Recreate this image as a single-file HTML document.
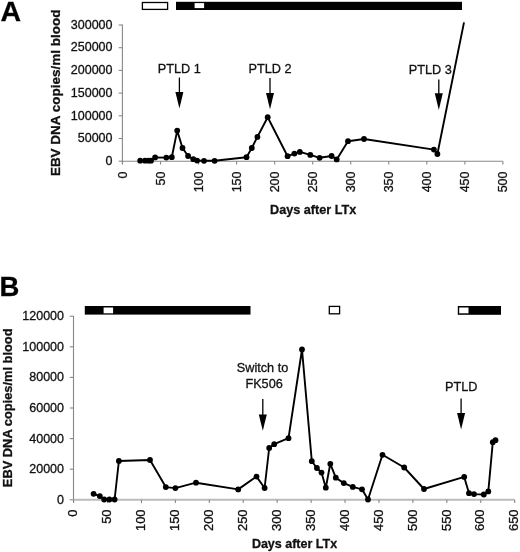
<!DOCTYPE html><html><head><meta charset="utf-8"><style>html,body{margin:0;padding:0;background:#fff;}svg{display:block;will-change:transform;} text{stroke:#111;stroke-width:0.3px;}</style></head><body>
<svg width="520" height="552" viewBox="0 0 520 552" font-family='"Liberation Sans", sans-serif' fill="#111">
<rect width="520" height="552" fill="#fff"/>
<text x="0.6" y="21" font-size="28.5" font-weight="bold" fill="#000">A</text>
<line x1="122.4" y1="24.5" x2="122.4" y2="163.7" stroke="#888" stroke-width="1.1"/>
<line x1="118.7" y1="161.20" x2="122.4" y2="161.20" stroke="#888" stroke-width="1.1"/>
<text x="112.5" y="164.90" text-anchor="end" font-size="12.5">0</text>
<line x1="118.7" y1="138.50" x2="122.4" y2="138.50" stroke="#888" stroke-width="1.1"/>
<text x="112.5" y="142.20" text-anchor="end" font-size="12.5">50000</text>
<line x1="118.7" y1="115.80" x2="122.4" y2="115.80" stroke="#888" stroke-width="1.1"/>
<text x="112.5" y="119.50" text-anchor="end" font-size="12.5">100000</text>
<line x1="118.7" y1="93.10" x2="122.4" y2="93.10" stroke="#888" stroke-width="1.1"/>
<text x="112.5" y="96.80" text-anchor="end" font-size="12.5">150000</text>
<line x1="118.7" y1="70.40" x2="122.4" y2="70.40" stroke="#888" stroke-width="1.1"/>
<text x="112.5" y="74.10" text-anchor="end" font-size="12.5">200000</text>
<line x1="118.7" y1="47.70" x2="122.4" y2="47.70" stroke="#888" stroke-width="1.1"/>
<text x="112.5" y="51.40" text-anchor="end" font-size="12.5">250000</text>
<line x1="118.7" y1="25.00" x2="122.4" y2="25.00" stroke="#888" stroke-width="1.1"/>
<text x="112.5" y="28.70" text-anchor="end" font-size="12.5">300000</text>
<line x1="122.4" y1="161.2" x2="502.9" y2="161.2" stroke="#888" stroke-width="1.1"/>
<line x1="122.50" y1="161.2" x2="122.50" y2="164.5" stroke="#888" stroke-width="1.1"/>
<text transform="translate(126.60,171.5) rotate(-90)" text-anchor="end" font-size="12.5">0</text>
<line x1="160.54" y1="161.2" x2="160.54" y2="164.5" stroke="#888" stroke-width="1.1"/>
<text transform="translate(164.64,171.5) rotate(-90)" text-anchor="end" font-size="12.5">50</text>
<line x1="198.58" y1="161.2" x2="198.58" y2="164.5" stroke="#888" stroke-width="1.1"/>
<text transform="translate(202.68,171.5) rotate(-90)" text-anchor="end" font-size="12.5">100</text>
<line x1="236.62" y1="161.2" x2="236.62" y2="164.5" stroke="#888" stroke-width="1.1"/>
<text transform="translate(240.72,171.5) rotate(-90)" text-anchor="end" font-size="12.5">150</text>
<line x1="274.66" y1="161.2" x2="274.66" y2="164.5" stroke="#888" stroke-width="1.1"/>
<text transform="translate(278.76,171.5) rotate(-90)" text-anchor="end" font-size="12.5">200</text>
<line x1="312.70" y1="161.2" x2="312.70" y2="164.5" stroke="#888" stroke-width="1.1"/>
<text transform="translate(316.80,171.5) rotate(-90)" text-anchor="end" font-size="12.5">250</text>
<line x1="350.74" y1="161.2" x2="350.74" y2="164.5" stroke="#888" stroke-width="1.1"/>
<text transform="translate(354.84,171.5) rotate(-90)" text-anchor="end" font-size="12.5">300</text>
<line x1="388.78" y1="161.2" x2="388.78" y2="164.5" stroke="#888" stroke-width="1.1"/>
<text transform="translate(392.88,171.5) rotate(-90)" text-anchor="end" font-size="12.5">350</text>
<line x1="426.82" y1="161.2" x2="426.82" y2="164.5" stroke="#888" stroke-width="1.1"/>
<text transform="translate(430.92,171.5) rotate(-90)" text-anchor="end" font-size="12.5">400</text>
<line x1="464.86" y1="161.2" x2="464.86" y2="164.5" stroke="#888" stroke-width="1.1"/>
<text transform="translate(468.96,171.5) rotate(-90)" text-anchor="end" font-size="12.5">450</text>
<line x1="502.90" y1="161.2" x2="502.90" y2="164.5" stroke="#888" stroke-width="1.1"/>
<text transform="translate(507.00,171.5) rotate(-90)" text-anchor="end" font-size="12.5">500</text>
<text transform="translate(59.6,92.85) rotate(-90)" text-anchor="middle" font-size="13" font-weight="bold" textLength="166.5" lengthAdjust="spacingAndGlyphs">EBV DNA copies/ml blood</text>
<text x="270" y="214.2" font-size="12.5" font-weight="bold" textLength="86.2" lengthAdjust="spacingAndGlyphs">Days after LTx</text>
<polyline fill="none" stroke="#000" stroke-width="1.9" stroke-linejoin="round" points="140.2,160.7 145,160.7 148.5,160.7 151,160.7 155.1,157.4 166.3,157.6 171.8,157.2 177.2,130.6 182.5,148 188.1,156 193.3,159.2 197.1,160.6 204,160.8 214.6,160.8 246.5,157.2 251.8,148 257.4,136.9 267.7,117.2 287.6,156.2 294.4,153.6 299.8,151.9 310.3,154.9 319.6,157.8 331.6,156 336.7,159.4 348,141.2 364,139 433.9,149.6 437.4,154 464,22.4"/>
<circle cx="140.2" cy="160.7" r="2.9" fill="#000"/>
<circle cx="145" cy="160.7" r="2.9" fill="#000"/>
<circle cx="148.5" cy="160.7" r="2.9" fill="#000"/>
<circle cx="151" cy="160.7" r="2.9" fill="#000"/>
<circle cx="155.1" cy="157.4" r="2.9" fill="#000"/>
<circle cx="166.3" cy="157.6" r="2.9" fill="#000"/>
<circle cx="171.8" cy="157.2" r="2.9" fill="#000"/>
<circle cx="177.2" cy="130.6" r="2.9" fill="#000"/>
<circle cx="182.5" cy="148" r="2.9" fill="#000"/>
<circle cx="188.1" cy="156" r="2.9" fill="#000"/>
<circle cx="193.3" cy="159.2" r="2.9" fill="#000"/>
<circle cx="197.1" cy="160.6" r="2.9" fill="#000"/>
<circle cx="204" cy="160.8" r="2.9" fill="#000"/>
<circle cx="214.6" cy="160.8" r="2.9" fill="#000"/>
<circle cx="246.5" cy="157.2" r="2.9" fill="#000"/>
<circle cx="251.8" cy="148" r="2.9" fill="#000"/>
<circle cx="257.4" cy="136.9" r="2.9" fill="#000"/>
<circle cx="267.7" cy="117.2" r="2.9" fill="#000"/>
<circle cx="287.6" cy="156.2" r="2.9" fill="#000"/>
<circle cx="294.4" cy="153.6" r="2.9" fill="#000"/>
<circle cx="299.8" cy="151.9" r="2.9" fill="#000"/>
<circle cx="310.3" cy="154.9" r="2.9" fill="#000"/>
<circle cx="319.6" cy="157.8" r="2.9" fill="#000"/>
<circle cx="331.6" cy="156" r="2.9" fill="#000"/>
<circle cx="336.7" cy="159.4" r="2.9" fill="#000"/>
<circle cx="348" cy="141.2" r="2.9" fill="#000"/>
<circle cx="364" cy="139" r="2.9" fill="#000"/>
<circle cx="433.9" cy="149.6" r="2.9" fill="#000"/>
<circle cx="437.4" cy="154" r="2.9" fill="#000"/>
<text x="157.79999999999998" y="72.9" font-size="12.7">PTLD 1</text>
<text x="248.6" y="73.2" font-size="12.7">PTLD 2</text>
<text x="408.8" y="74.1" font-size="12.7">PTLD 3</text>
<line x1="179.4" y1="77.5" x2="179.4" y2="93" stroke="#000" stroke-width="1.3"/>
<polygon points="175.4,92 183.4,92 179.4,108.6" fill="#000"/>
<line x1="270" y1="78" x2="270" y2="94" stroke="#000" stroke-width="1.3"/>
<polygon points="266,93 274,93 270,109.2" fill="#000"/>
<line x1="438.8" y1="79.6" x2="438.8" y2="94.2" stroke="#000" stroke-width="1.3"/>
<polygon points="434.8,93.2 442.8,93.2 438.8,110" fill="#000"/>
<rect x="142.4" y="2.5" width="25.2" height="6.9" fill="#fff" stroke="#000" stroke-width="1.3"/>
<rect x="176" y="1.8" width="286" height="8.2" fill="#000"/>
<rect x="194.6" y="3.1" width="9.5" height="5" fill="#fff"/>
<text x="-0.5" y="295.8" font-size="27.5" font-weight="bold" fill="#000">B</text>
<line x1="73.5" y1="316" x2="73.5" y2="502.3" stroke="#888" stroke-width="1.1"/>
<line x1="69.8" y1="499.80" x2="73.5" y2="499.80" stroke="#888" stroke-width="1.1"/>
<text x="64" y="503.80" text-anchor="end" font-size="12.5">0</text>
<line x1="69.8" y1="469.20" x2="73.5" y2="469.20" stroke="#888" stroke-width="1.1"/>
<text x="64" y="473.20" text-anchor="end" font-size="12.5">20000</text>
<line x1="69.8" y1="438.60" x2="73.5" y2="438.60" stroke="#888" stroke-width="1.1"/>
<text x="64" y="442.60" text-anchor="end" font-size="12.5">40000</text>
<line x1="69.8" y1="408.00" x2="73.5" y2="408.00" stroke="#888" stroke-width="1.1"/>
<text x="64" y="412.00" text-anchor="end" font-size="12.5">60000</text>
<line x1="69.8" y1="377.40" x2="73.5" y2="377.40" stroke="#888" stroke-width="1.1"/>
<text x="64" y="381.40" text-anchor="end" font-size="12.5">80000</text>
<line x1="69.8" y1="346.80" x2="73.5" y2="346.80" stroke="#888" stroke-width="1.1"/>
<text x="64" y="350.80" text-anchor="end" font-size="12.5">100000</text>
<line x1="69.8" y1="316.20" x2="73.5" y2="316.20" stroke="#888" stroke-width="1.1"/>
<text x="64" y="320.20" text-anchor="end" font-size="12.5">120000</text>
<line x1="73.5" y1="499.8" x2="514.6899999999999" y2="499.8" stroke="#bbb" stroke-width="2"/>
<line x1="73.60" y1="499.8" x2="73.60" y2="503.1" stroke="#888" stroke-width="1.1"/>
<text transform="translate(77.30,509.4) rotate(-90)" text-anchor="end" font-size="13">0</text>
<line x1="107.53" y1="499.8" x2="107.53" y2="503.1" stroke="#888" stroke-width="1.1"/>
<text transform="translate(111.23,509.4) rotate(-90)" text-anchor="end" font-size="13">50</text>
<line x1="141.46" y1="499.8" x2="141.46" y2="503.1" stroke="#888" stroke-width="1.1"/>
<text transform="translate(145.16,509.4) rotate(-90)" text-anchor="end" font-size="13">100</text>
<line x1="175.39" y1="499.8" x2="175.39" y2="503.1" stroke="#888" stroke-width="1.1"/>
<text transform="translate(179.09,509.4) rotate(-90)" text-anchor="end" font-size="13">150</text>
<line x1="209.32" y1="499.8" x2="209.32" y2="503.1" stroke="#888" stroke-width="1.1"/>
<text transform="translate(213.02,509.4) rotate(-90)" text-anchor="end" font-size="13">200</text>
<line x1="243.25" y1="499.8" x2="243.25" y2="503.1" stroke="#888" stroke-width="1.1"/>
<text transform="translate(246.95,509.4) rotate(-90)" text-anchor="end" font-size="13">250</text>
<line x1="277.18" y1="499.8" x2="277.18" y2="503.1" stroke="#888" stroke-width="1.1"/>
<text transform="translate(280.88,509.4) rotate(-90)" text-anchor="end" font-size="13">300</text>
<line x1="311.11" y1="499.8" x2="311.11" y2="503.1" stroke="#888" stroke-width="1.1"/>
<text transform="translate(314.81,509.4) rotate(-90)" text-anchor="end" font-size="13">350</text>
<line x1="345.04" y1="499.8" x2="345.04" y2="503.1" stroke="#888" stroke-width="1.1"/>
<text transform="translate(348.74,509.4) rotate(-90)" text-anchor="end" font-size="13">400</text>
<line x1="378.97" y1="499.8" x2="378.97" y2="503.1" stroke="#888" stroke-width="1.1"/>
<text transform="translate(382.67,509.4) rotate(-90)" text-anchor="end" font-size="13">450</text>
<line x1="412.90" y1="499.8" x2="412.90" y2="503.1" stroke="#888" stroke-width="1.1"/>
<text transform="translate(416.60,509.4) rotate(-90)" text-anchor="end" font-size="13">500</text>
<line x1="446.83" y1="499.8" x2="446.83" y2="503.1" stroke="#888" stroke-width="1.1"/>
<text transform="translate(450.53,509.4) rotate(-90)" text-anchor="end" font-size="13">550</text>
<line x1="480.76" y1="499.8" x2="480.76" y2="503.1" stroke="#888" stroke-width="1.1"/>
<text transform="translate(484.46,509.4) rotate(-90)" text-anchor="end" font-size="13">600</text>
<line x1="514.69" y1="499.8" x2="514.69" y2="503.1" stroke="#888" stroke-width="1.1"/>
<text transform="translate(518.39,509.4) rotate(-90)" text-anchor="end" font-size="13">650</text>
<text transform="translate(11.6,407.8) rotate(-90)" text-anchor="middle" font-size="13" font-weight="bold" textLength="158.7" lengthAdjust="spacingAndGlyphs">EBV DNA copies/ml blood</text>
<text x="251.9" y="548.1" font-size="12.5" font-weight="bold" textLength="85.2" lengthAdjust="spacingAndGlyphs">Days after LTx</text>
<polyline fill="none" stroke="#000" stroke-width="1.9" stroke-linejoin="round" points="93.6,493.8 99.8,496.1 104.2,499.5 109.4,499.5 114.6,499.5 118.9,461 150,460 165.8,487.1 175.4,488.1 196,482.7 238.2,489.4 256.5,476.6 264.6,488 269.2,448 274.2,444.2 288.5,438.2 302,349.5 311.8,461.2 316.9,468 321.5,472.6 325.8,487.7 330.3,463.8 335.8,477.7 343.8,483.1 352.8,486.9 362,489.3 368,499.5 382.5,454.8 404.2,467.5 424,489 464.2,476.9 469,493.2 474,494.1 483.8,494.5 488.3,491.4 492.8,442.2 495.5,440.2"/>
<circle cx="93.6" cy="493.8" r="2.9" fill="#000"/>
<circle cx="99.8" cy="496.1" r="2.9" fill="#000"/>
<circle cx="104.2" cy="499.5" r="2.9" fill="#000"/>
<circle cx="109.4" cy="499.5" r="2.9" fill="#000"/>
<circle cx="114.6" cy="499.5" r="2.9" fill="#000"/>
<circle cx="118.9" cy="461" r="2.9" fill="#000"/>
<circle cx="150" cy="460" r="2.9" fill="#000"/>
<circle cx="165.8" cy="487.1" r="2.9" fill="#000"/>
<circle cx="175.4" cy="488.1" r="2.9" fill="#000"/>
<circle cx="196" cy="482.7" r="2.9" fill="#000"/>
<circle cx="238.2" cy="489.4" r="2.9" fill="#000"/>
<circle cx="256.5" cy="476.6" r="2.9" fill="#000"/>
<circle cx="264.6" cy="488" r="2.9" fill="#000"/>
<circle cx="269.2" cy="448" r="2.9" fill="#000"/>
<circle cx="274.2" cy="444.2" r="2.9" fill="#000"/>
<circle cx="288.5" cy="438.2" r="2.9" fill="#000"/>
<circle cx="302" cy="349.5" r="2.9" fill="#000"/>
<circle cx="311.8" cy="461.2" r="2.9" fill="#000"/>
<circle cx="316.9" cy="468" r="2.9" fill="#000"/>
<circle cx="321.5" cy="472.6" r="2.9" fill="#000"/>
<circle cx="325.8" cy="487.7" r="2.9" fill="#000"/>
<circle cx="330.3" cy="463.8" r="2.9" fill="#000"/>
<circle cx="335.8" cy="477.7" r="2.9" fill="#000"/>
<circle cx="343.8" cy="483.1" r="2.9" fill="#000"/>
<circle cx="352.8" cy="486.9" r="2.9" fill="#000"/>
<circle cx="362" cy="489.3" r="2.9" fill="#000"/>
<circle cx="368" cy="499.5" r="2.9" fill="#000"/>
<circle cx="382.5" cy="454.8" r="2.9" fill="#000"/>
<circle cx="404.2" cy="467.5" r="2.9" fill="#000"/>
<circle cx="424" cy="489" r="2.9" fill="#000"/>
<circle cx="464.2" cy="476.9" r="2.9" fill="#000"/>
<circle cx="469" cy="493.2" r="2.9" fill="#000"/>
<circle cx="474" cy="494.1" r="2.9" fill="#000"/>
<circle cx="483.8" cy="494.5" r="2.9" fill="#000"/>
<circle cx="488.3" cy="491.4" r="2.9" fill="#000"/>
<circle cx="492.8" cy="442.2" r="2.9" fill="#000"/>
<circle cx="495.5" cy="440.2" r="2.9" fill="#000"/>
<text x="236.8" y="372" font-size="12.7">Switch to</text>
<text x="245.4" y="388.3" font-size="12.7">FK506</text>
<line x1="262.8" y1="398.9" x2="262.8" y2="415.4" stroke="#000" stroke-width="1.3"/>
<polygon points="258.8,414.4 266.8,414.4 262.8,430.8" fill="#000"/>
<text x="445.1" y="390.6" font-size="12.7">PTLD</text>
<line x1="461.1" y1="398.6" x2="461.1" y2="414.1" stroke="#000" stroke-width="1.3"/>
<polygon points="457.1,413.1 465.1,413.1 461.1,429.6" fill="#000"/>
<rect x="84.8" y="306" width="165.7" height="8.6" fill="#000"/>
<rect x="103.6" y="307.5" width="9.5" height="5.8" fill="#fff"/>
<rect x="329.3" y="306.4" width="10.3" height="7.4" fill="#fff" stroke="#000" stroke-width="1.3"/>
<rect x="457.8" y="306" width="43.2" height="8.8" fill="#000"/>
<rect x="459.2" y="307.5" width="9.3" height="5.8" fill="#fff"/>
</svg></body></html>
